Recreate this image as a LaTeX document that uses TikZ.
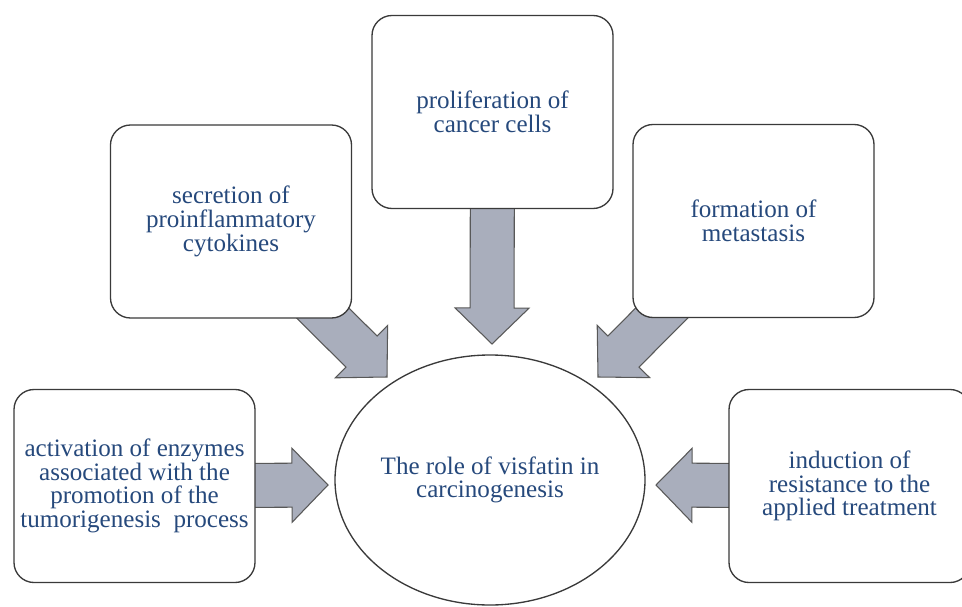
\documentclass[tikz,border=0pt]{standalone}
\usepackage{fontspec}
\setmainfont{Liberation Serif}
\usepackage{xcolor}
\usepackage{tikz}
\usetikzlibrary{shapes.geometric, calc, backgrounds}
\definecolor{txtblue}{HTML}{26497C}
\definecolor{arrowgrey}{HTML}{A9AEBC}
\definecolor{edgegrey}{HTML}{3A3A3A}
\tikzstyle{effect} = [rectangle, rounded corners=15pt, minimum width=180.75pt, minimum height=144.75pt, align=center, draw=edgegrey, line width=1pt, fill=white, text=txtblue, font=\fontsize{18.8pt}{17.75pt}\selectfont]
\tikzstyle{role} = [ellipse, inner sep=0pt, minimum width=232.5pt, minimum height=187.5pt, align=center, draw=edgegrey, line width=1pt, fill=white, text=txtblue, font=\fontsize{18.8pt}{17.5pt}\selectfont]
\tikzstyle{fatarrow} = [fill=arrowgrey, draw=edgegrey!85, line width=0.8pt, line join=miter]
\newcommand{\shaftw}{16.5pt}
\newcommand{\headw}{27.75pt}
\newcommand{\headlen}{27pt}
% block arrow from #1 (tail) to #2 (tip)
\newcommand{\blockarrow}[2]{%
  \coordinate (ba-base) at ($(#2)!\headlen!(#1)$);
  \draw[fatarrow] ($(#1)!\shaftw!90:(#2)$) -- ($(ba-base)!\shaftw!90:(#2)$)
    -- ($(ba-base)!\headw!90:(#2)$) -- (#2) -- ($(ba-base)!\headw!-90:(#2)$)
    -- ($(ba-base)!\shaftw!-90:(#2)$) -- ($(#1)!\shaftw!-90:(#2)$) -- cycle;}

\begin{document}
\begin{tikzpicture}[x=0.75pt, y=-0.75pt]
      \clip (0,0) rectangle (962,606);
      \node (prolif) [effect] at (492.5,112) {proliferation of\\cancer cells};
      \node (cyto) [effect] at (231,221.5) {secretion of\\proinflammatory\\cytokines};
      \node (meta) [effect] at (753.5,221) {formation of\\metastasis};
      \node (enzym) [effect] at (134.5,486) {activation of enzymes\\associated with the\\promotion of the\\tumorigenesis\ \ process};
      \node (resist) [effect] at (849.5,486) {induction of\\resistance to the\\applied treatment};
      \node (role) [role] at (490,480) {The role of visfatin in\\carcinogenesis};
      \coordinate (tipN) at (492,344);
      \coordinate (tipNW) at (387,377);
      \coordinate (tipNE) at (598,377);
      \coordinate (tipW) at (328,485);
      \coordinate (tipE) at (656,485);
      \begin{scope}[on background layer]
        \blockarrow{prolif.center}{tipN}
        \blockarrow{cyto.center}{tipNW}
        \blockarrow{meta.center}{tipNE}
        \blockarrow{enzym.center}{tipW}
        \blockarrow{resist.center}{tipE}
      \end{scope}
    \end{tikzpicture}
\end{document}
